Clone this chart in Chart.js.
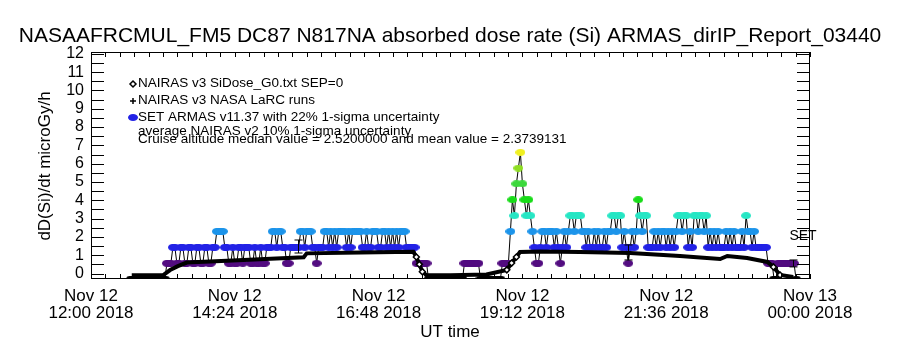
<!DOCTYPE html>
<html>
<head>
<meta charset="utf-8">
<script src="https://cdn.jsdelivr.net/npm/chart.js@4.4.0/dist/chart.umd.min.js"></script>
<style>
  html, body { margin: 0; padding: 0; background: #fff; }
</style>
</head>
<body>
<canvas id="dose" width="900" height="350"></canvas>
<script>
const titleText = 'NASAAFRCMUL_FM5 DC87 N817NA absorbed dose rate (Si) ARMAS_dirIP_Report_03440'
const yTitle = 'dD(Si)/dt microGy/h'
const xTitle = 'UT time'
const legendText = [
    'NAIRAS v3 SiDose_G0.txt SEP=0',
    'NAIRAS v3 NASA LaRC runs',
    'SET ARMAS v11.37 with 22% 1-sigma uncertainty',
    'average NAIRAS v2 10% 1-sigma uncertainty',
    'Cruise altitude median value = 2.5200000 and mean value = 2.3739131'
]

// x axis in hours UT of Nov 12
const xTickHours = [12, 14.4, 16.8, 19.2, 21.6, 24]
const xTickLabels = [
    ['Nov 12', '12:00 2018'],
    ['Nov 12', '14:24 2018'],
    ['Nov 12', '16:48 2018'],
    ['Nov 12', '19:12 2018'],
    ['Nov 12', '21:36 2018'],
    ['Nov 13', '00:00 2018']
]
const yTickValues = [0, 1, 2, 3, 4, 5, 6, 7, 8, 9, 10, 11, 12]

// NAIRAS v3 model curve
const nairasTime = [12.68, 13.2, 13.32, 13.45, 13.6, 14.27, 15.0, 15.55, 15.6, 16.5, 17.38, 17.43, 17.48, 17.53, 17.6,
    18.0, 18.6, 18.94, 19.02, 19.1, 19.16, 19.5, 20.16, 21.0, 21.83, 22.5, 22.62, 22.95, 23.29, 23.39, 23.5, 23.72]
const nairasDose = [-0.1, -0.1, 0.19, 0.4, 0.6, 0.7, 0.8, 0.89, 1.1, 1.15, 1.19, 0.9, 0.5, 0.1, -0.1,
    -0.1, -0.05, 0.2, 0.57, 0.9, 1.17, 1.2, 1.17, 1.12, 0.96, 0.79, 0.96, 0.85, 0.63, 0.36, -0.08, -0.19]

// ARMAS quantized dose levels and colour table
const doseLevels = [-0.3, 0.56, 1.43, 2.30, 3.16, 4.03, 4.90, 5.76, 6.62]
const levelColors = ['#000000', '#520c80', '#2222e6', '#1c94ea', '#26e6c4', '#18dc18', '#3cd83c', '#8ede22', '#f0f020']

// ARMAS record, 2 minute samples from 12:40 UT, one row per hour
const armasStart = 12 + 40 / 60
const armasStep = 2 / 60
const armasLevel = [
    0,0,0,0,0,0,0,0,0,0, 0,0,0,0,0,0,0,0,1,1, 1,2,2,1,1,2,2,1,1,2,
    2,1,1,2,2,1,1,2,2,1, 1,2,2,3,3,3,3,2,2,1, 1,2,1,1,2,2,1,2,2,2,
    1,1,2,1,1,2,1,1,2,2, 2,3,3,2,3,3,2,2,1,1, 2,2,2,2,2,3,3,2,3,3,
    3,2,2,1,2,2,2,3,3,2, 3,2,3,2,3,3,3,3,2,3, 2,3,3,3,3,3,2,2,3,2,
    2,3,3,3,2,2,3,3,2,3, 2,3,2,3,2,3,3,3,2,2, 2,2,2,1,1,1,1,1,1,0,
    0,0,0,0,0,0,0,0,0,0, 0,0,0,0,0,0,0,1,1,1, 1,1,1,1,1,0,0,0,0,0,
    0,0,0,0,0,0,1,1,1,1, 3,5,4,6,7,8,6,5,4,5, 4,3,2,1,1,2,3,3,2,3,
    3,3,2,3,2,1,2,3,2,3, 4,4,3,4,4,4,3,3,2,3, 2,2,3,2,3,2,2,3,2,3,
    3,4,4,3,4,4,2,3,2,1, 2,3,2,3,5,4,3,4,4,2, 2,2,3,2,3,2,3,3,2,3,
    2,3,2,3,4,4,3,4,4,2, 3,2,4,4,3,4,4,3,4,2, 3,2,3,2,3,2,2,2,3,2,
    3,2,3,2,2,2,3,2,4,3, 3,2,3,2,2,2,2,2,2,1, 1,1,0,0,1,1,1,1,1,1,
    1,1,1,0
]

// small I-shaped uncertainty marks
const errTime = [15.46, 20.97, 23.72]
const errLow = [1.12, 0.74, 0.36]
const errHigh = [1.83, 1.56, 0.74]

const armasPoints = armasLevel.map((lv, i) => ({x: armasStart + i * armasStep, y: doseLevels[lv]}))
const nairasPoints = nairasTime.map((t, i) => ({x: t, y: nairasDose[i]}))

const FONT = '"Liberation Sans", Arial, sans-serif'

// flat blobs used as the ARMAS markers
const blobs = levelColors.map(col => {
    const c = document.createElement('canvas')
    c.width = 10
    c.height = 7
    const g = c.getContext('2d')
    g.fillStyle = col
    g.beginPath()
    g.ellipse(5, 3.5, 5, 3.5, 0, 0, Math.PI * 2)
    g.fill()
    return c
})

const idlFrame = {
    id: 'idlFrame',
    afterDatasetsDraw(chart) {
        const ctx = chart.ctx
        const a = chart.chartArea
        const xs = chart.scales.x
        const ys = chart.scales.y
        ctx.save()
        ctx.strokeStyle = '#000'
        ctx.lineWidth = 1

        // error marks
        errTime.forEach((t, i) => {
            const px = Math.round(xs.getPixelForValue(t)) + 0.5
            const p1 = ys.getPixelForValue(errLow[i])
            const p2 = ys.getPixelForValue(errHigh[i])
            ctx.beginPath()
            ctx.moveTo(px, p1); ctx.lineTo(px, p2)
            ctx.moveTo(px - 4, p1); ctx.lineTo(px + 4, p1)
            ctx.moveTo(px - 4, p2); ctx.lineTo(px + 4, p2)
            ctx.stroke()
        })

        ctx.strokeRect(a.left + 0.5, a.top + 0.5, a.right - a.left - 1, a.bottom - a.top - 1)
        ctx.beginPath()
        for (let v = 0; v <= 12; v += 0.5) {
            const py = Math.round(ys.getPixelForValue(v)) + 0.5
            ctx.moveTo(a.left, py); ctx.lineTo(a.left + 13, py)
            ctx.moveTo(a.right, py); ctx.lineTo(a.right - 13, py)
        }
        for (let t = 12; t <= 24.001; t += 0.24) {
            const px = Math.round(xs.getPixelForValue(t)) + 0.5
            ctx.moveTo(px, a.bottom); ctx.lineTo(px, a.bottom - 5)
            ctx.moveTo(px, a.top); ctx.lineTo(px, a.top + 5)
        }
        ctx.stroke()

        ctx.fillStyle = '#000'
        ctx.textBaseline = 'middle'
        ctx.textAlign = 'center'
        ctx.font = '21px ' + FONT
        ctx.fillText(titleText, 450, 36)
        ctx.font = '17px ' + FONT
        ctx.fillText(xTitle, 450, 332)
        ctx.save()
        ctx.translate(45, 166)
        ctx.rotate(-Math.PI / 2)
        ctx.fillText(yTitle, 0, 0)
        ctx.restore()

        ctx.font = '14px ' + FONT
        ctx.fillText('SET', 803, 236)

        // legend
        ctx.textAlign = 'left'
        ctx.font = '13.5px ' + FONT
        const lx = 138
        const ly = [83, 100, 117, 131, 139]
        legendText.forEach((s, i) => ctx.fillText(s, lx, ly[i]))
        ctx.beginPath()
        ctx.moveTo(133, 81); ctx.lineTo(136, 84); ctx.lineTo(133, 87); ctx.lineTo(130, 84); ctx.closePath()
        ctx.lineWidth = 1.5
        ctx.stroke()
        ctx.beginPath()
        ctx.lineWidth = 1.5
        ctx.moveTo(130, 101); ctx.lineTo(136, 101)
        ctx.moveTo(133, 98); ctx.lineTo(133, 104)
        ctx.stroke()
        ctx.drawImage(blobs[2], 128, 114)
        ctx.restore()
    }
}

const ctx = document.getElementById('dose').getContext('2d')
const doseChart = new Chart(ctx, {
    type: 'line',
    data: {
        datasets: [{
            label: 'NAIRAS v3',
            data: nairasPoints,
            borderColor: '#000',
            borderWidth: 4,
            clip: 0,
            pointStyle: 'rectRot',
            pointBackgroundColor: '#fff',
            pointBorderColor: '#000',
            pointBorderWidth: 1.5,
            pointRadius: (c) => {
                const i = c.dataIndex
                const a = nairasDose[Math.max(i - 1, 0)]
                const b = nairasDose[Math.min(i + 1, nairasDose.length - 1)]
                return Math.abs(b - a) > 0.5 ? 3 : 0
            }
        }, {
            label: 'SET ARMAS',
            data: armasPoints,
            borderColor: '#000',
            borderWidth: 1,
            clip: 0,
            pointRadius: 4,
            pointStyle: (c) => blobs[armasLevel[c.dataIndex]]
        }]
    },
    options: {
        responsive: false,
        animation: false,
        devicePixelRatio: 1,
        layout: { padding: { left: 0, top: 52, right: 90, bottom: 0 } },
        plugins: {
            legend: { display: false },
            tooltip: { enabled: false }
        },
        scales: {
            x: {
                type: 'linear',
                min: 12,
                max: 24,
                afterBuildTicks: (s) => { s.ticks = xTickHours.map(v => ({value: v})) },
                afterFit: (s) => { s.height = 71 },
                grid: { display: false, drawTicks: false },
                border: { display: false },
                ticks: {
                    autoSkip: false,
                    maxRotation: 0,
                    padding: 9,
                    color: '#000',
                    font: { family: FONT, size: 17, lineHeight: 1.0 },
                    callback: (v, i) => xTickLabels[i]
                }
            },
            y: {
                min: -0.3,
                max: 12.1,
                afterBuildTicks: (s) => { s.ticks = yTickValues.map(v => ({value: v})) },
                afterFit: (s) => { s.width = 91 },
                grid: { display: false, drawTicks: false },
                border: { display: false },
                ticks: {
                    autoSkip: false,
                    padding: 7,
                    color: '#000',
                    font: { family: FONT, size: 16 },
                    callback: (v) => v
                }
            }
        }
    },
    plugins: [idlFrame]
})
</script>
</body>
</html>
